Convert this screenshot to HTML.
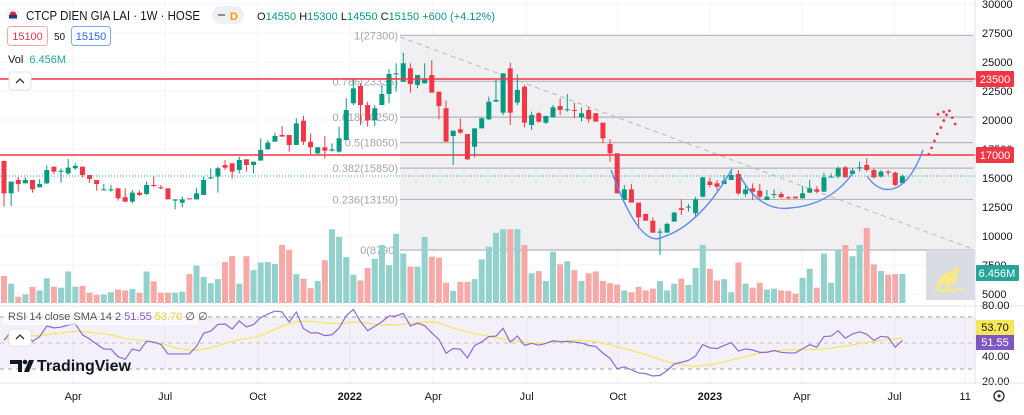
<!DOCTYPE html>
<html><head><meta charset="utf-8">
<style>
html,body{margin:0;padding:0;background:#fff;}
body{width:1024px;height:410px;overflow:hidden;font-family:"Liberation Sans",sans-serif;}
svg text{font-family:"Liberation Sans",sans-serif;}
</style></head>
<body>
<svg id="chart" width="1024" height="410" viewBox="0 0 1024 410" xmlns="http://www.w3.org/2000/svg">
<rect x="0" y="0" width="1024" height="410" fill="#fff"/>
<g id="grid"></g>
<rect x="400" y="35" width="575" height="215" fill="#f0f0f3"/>
<g id="fib"></g>
<g id="vol"></g>
<line x1="400" y1="37" x2="970" y2="248" stroke="#b8bac0" stroke-width="1" stroke-dasharray="5,4"/>
<g id="candles"></g>
<line x1="0" y1="79" x2="976" y2="79" stroke="#f23645" stroke-width="1.5"/>
<line x1="0" y1="155" x2="976" y2="155" stroke="#f23645" stroke-width="1.5"/>
<line x1="0" y1="176" x2="976" y2="176" stroke="#26a69a" stroke-width="1" stroke-dasharray="1,2"/>
<g fill="none" stroke="#5b8cf0" stroke-width="1.4">
<path d="M611,170 Q640,250 663,237 Q700,225 732,169"/>
<path d="M740,176 Q760,212 790,208 Q830,205 853,173"/>
<path d="M867,176 Q878,192 892,189 Q910,185 923,150"/>
</g>
<g id="dots" fill="#f23645"></g>
<rect x="926" y="250" width="49" height="50" fill="#d9dce2"/>
<path d="M938,283 q4,-10 12,-10 l6,-6 l3,3 l-3,4 q2,6 -2,9 l-4,0 l-1,5 l-3,0 l0,-5 l-5,0 l-1,5 l-3,0 z M934,290 q12,4 30,-2" fill="#f5e98a" stroke="#f5e98a" stroke-width="1.2"/>
<line x1="975" y1="0" x2="975" y2="383" stroke="#e0e3eb"/>
<g id="paxis" font-size="11" fill="#131722"></g>
<g><rect x="976" y="71" width="38" height="16" fill="#f23645" rx="1"/><text x="995" y="83" font-size="11" fill="#fff" text-anchor="middle">23500</text></g>
<g><rect x="976" y="147" width="38" height="16" fill="#f23645" rx="1"/><text x="995" y="159" font-size="11" fill="#fff" text-anchor="middle">17000</text></g>
<g><rect x="976" y="265" width="43" height="16" fill="#26a69a" rx="1"/><text x="997" y="277" font-size="11" fill="#fff" text-anchor="middle">6.456M</text></g>
<!-- RSI pane -->
<line x1="0" y1="306" x2="1024" y2="306" stroke="#e0e3eb"/>
<rect x="0" y="317" width="975" height="52" fill="rgba(126,87,194,0.09)"/>
<line x1="0" y1="317" x2="975" y2="317" stroke="#a0a3ab" stroke-dasharray="4,4"/>
<line x1="0" y1="343" x2="975" y2="343" stroke="#c0c3cb" stroke-dasharray="4,4"/>
<line x1="0" y1="369" x2="975" y2="369" stroke="#a0a3ab" stroke-dasharray="4,4"/>
<polyline id="rsima" fill="none" stroke="#f7e55a" stroke-width="1.2"/>
<polyline id="rsiline" fill="none" stroke="#8c6ad6" stroke-width="1.2"/>
<g font-size="11" fill="#131722">
<text x="982" y="309">80.00</text><text x="982" y="360">40.00</text><text x="982" y="385">20.00</text>
</g>
<g><rect x="976" y="320" width="38" height="15" fill="#f7e55a"/><text x="995" y="331" font-size="11" fill="#131722" text-anchor="middle">53.70</text></g>
<g><rect x="976" y="335" width="38" height="15" fill="#7e57c2"/><text x="995" y="346" font-size="11" fill="#fff" text-anchor="middle">51.55</text></g>
<rect x="3" y="309" width="195" height="16" fill="rgba(255,255,255,0.6)"/>
<text x="8" y="320" font-size="11"><tspan fill="#555">RSI 14 close SMA 14 2 </tspan><tspan fill="#7e57c2">51.55 </tspan><tspan fill="#e5d23a">53.70 </tspan><tspan fill="#444">∅ ∅</tspan></text>
<g><rect x="9" y="329" width="22" height="17" rx="3" fill="#fff" stroke="#e0e3eb"/><path d="M16,339 l4,-4 l4,4" fill="none" stroke="#333" stroke-width="1.3"/></g>
<g>
<path d="M10,360 h12 v12 h-4 v-8 h-8 z M24,372 l5,-12 h5 l-5,12 z" fill="#131722"/>
<circle cx="25" cy="362" r="2.3" fill="#131722"/>
<text x="37" y="371" font-size="16" fill="#131722" font-weight="bold">TradingView</text>
</g>
<!-- time axis -->
<line x1="0" y1="383" x2="1024" y2="383" stroke="#e0e3eb"/>
<g id="taxis" font-size="11" fill="#131722" text-anchor="middle"></g>
<g><circle cx="999" cy="396" r="5" fill="none" stroke="#333" stroke-width="1.4"/><circle cx="999" cy="396" r="1.6" fill="#333"/></g>
<!-- header -->
<g>
<circle cx="13" cy="15" r="6" fill="#eef0f4"/><circle cx="13" cy="15" r="3.5" fill="#d9232e"/><rect x="9" y="15" width="8" height="3.5" fill="#1f3a8a"/>
<text x="26" y="20" font-size="13" fill="#131722" textLength="174" lengthAdjust="spacingAndGlyphs">CTCP DIEN GIA LAI · 1W · HOSE</text>
<rect x="212" y="6" width="32" height="18" rx="9" fill="#eef0f4"/><rect x="218" y="14" width="7" height="2" fill="#8a8d96"/><text x="230" y="20" font-size="11" fill="#ff9800" font-weight="bold">D</text>
<text x="257" y="20" font-size="11"><tspan fill="#131722">O</tspan><tspan fill="#089981">14550 </tspan><tspan fill="#131722">H</tspan><tspan fill="#089981">15300 </tspan><tspan fill="#131722">L</tspan><tspan fill="#089981">14550 </tspan><tspan fill="#131722">C</tspan><tspan fill="#089981">15150 +600 (+4.12%)</tspan></text>
<g><rect x="7.5" y="26.5" width="40" height="19" rx="3" fill="#fff" stroke="#f7a9a7"/><text x="27.5" y="40" font-size="11" fill="#f23645" text-anchor="middle">15100</text></g>
<text x="54" y="40" font-size="10" fill="#131722">50</text>
<g><rect x="71.5" y="26.5" width="39" height="19" rx="3" fill="#fff" stroke="#7fa5f4"/><text x="91" y="40" font-size="11" fill="#2962ff" text-anchor="middle">15150</text></g>
<text x="8" y="63" font-size="11"><tspan fill="#131722">Vol </tspan><tspan fill="#26a69a" dx="3">6.456M</tspan></text>
<g><rect x="9" y="72" width="22" height="18" rx="3" fill="#fff" stroke="#e0e3eb"/><path d="M16,83 l4,-4 l4,4" fill="none" stroke="#333" stroke-width="1.3"/></g>
</g>
</svg>
<script>
const opens=[16470,13680,14830,14540,14830,14200,14540,15980,15550,15400,15840,15980,15260,14830,13970,13970,14110,13340,12960,13740,13620,14400,14200,14110,13050,12870,13250,13160,13540,14970,15110,16120,16270,15690,16610,16120,16500,17470,18130,18710,18710,17850,19940,18130,17130,17650,17360,17270,18280,21440,22930,21290,20000,21290,22240,23970,23310,24450,23020,23160,23880,22440,21010,18620,19200,18790,17700,19280,20060,21580,20630,24450,21500,22870,19570,20580,19770,20230,21210,20860,20860,20230,20860,20580,19770,17930,17130,13110,14020,12880,11900,11320,10290,10290,11240,12390,12530,11960,13390,14690,14540,14480,14830,15350,13620,14110,13910,13100,13610,13620,13340,13390,13250,13740,14020,13820,15060,15120,15920,15350,15830,16120,15690,15120,15550,15460,14550];
const highs=[16500,14700,15060,15060,14830,14890,16090,15980,15840,16640,16270,15980,15260,14830,14480,14400,14110,14110,13970,13910,14690,15170,14400,14110,13160,13390,13250,14110,15110,15840,15980,16550,16270,16840,16610,16410,18420,18280,18910,19480,18710,20150,20350,18850,17650,18620,17990,19430,21870,23590,23160,21580,21290,23020,24370,24890,25800,24890,23880,24890,25170,22440,21670,19080,20150,18790,19280,20230,22010,23450,24020,24940,23940,23020,20720,20720,20350,21290,21870,22240,21500,21090,21090,20580,19770,18340,17130,14400,14480,12880,11900,11610,10660,11150,12100,13160,12760,13390,15060,15060,14830,15260,15690,15690,14400,14540,14480,13970,14020,13820,13450,13390,14310,14830,14310,15460,15400,15980,16040,15840,16410,16700,15830,15690,15690,15540,15300];
const lows=[12530,12590,13820,14540,13740,14200,14480,15350,14600,15260,15690,15060,14600,13910,13970,13820,13050,12960,12820,13450,13540,14200,14020,13160,12300,12470,13160,13160,13540,14890,13740,15690,14970,15400,15550,15400,16500,17470,18130,18565,17270,17850,17850,17070,17070,16700,17270,17190,18280,21290,19570,19430,19480,21290,21440,22440,23310,22360,22730,23160,22360,20060,18130,16120,18790,16550,16780,19280,20000,21580,20430,19570,21290,19370,19140,19770,19660,20230,20430,20720,20150,19860,19770,19860,17990,16410,13680,13110,12880,10660,11320,10290,8360,10290,11240,11810,12100,11670,13330,14190,13910,14480,14830,13540,13390,13100,13100,13100,13250,13250,13160,13250,13250,13680,13680,13820,15060,14970,15060,15260,15550,15550,14970,15060,15260,14310,14550];
const closes=[13680,14690,14480,14830,14020,14480,15690,15550,15630,15890,16040,15260,14920,14480,14020,14020,13250,12960,13740,13540,14400,14310,14110,13160,13160,13160,13160,13680,14830,15060,15840,15890,15550,16550,16120,16410,17420,18050,18620,18565,17850,19710,18130,17650,17650,17360,17470,18420,20860,22730,21290,20000,21010,22240,23970,24020,24890,23100,23880,23510,22360,21210,18130,19080,18910,16610,19280,20150,21580,21730,24020,20630,22590,19770,20430,19860,20350,21090,20860,20920,20780,20580,20060,19860,18420,17130,13680,14020,12880,11610,11320,10290,10380,11040,12010,12240,12530,13160,15060,14400,14250,14770,15260,13680,14020,13820,13390,13390,13620,13340,13250,13250,13680,14110,13820,15060,15120,15830,15060,15630,15920,15690,15060,15550,15460,14400,15150];
const volumes=[6.0,4.3,1.4,1.9,3.6,2.8,5.5,3.6,3.4,7.0,3.6,3.8,2.3,1.8,1.9,2.4,3.0,2.8,3.1,2.3,7.0,4.8,2.3,2.3,2.3,2.5,6.4,8.3,5.8,4.4,5.3,9.1,10.4,4.3,10.4,7.3,9.0,9.1,8.7,12.9,11.8,6.4,5.4,3.3,4.9,9.5,16.4,14.7,10.2,6.3,5.0,7.8,9.8,12.9,8.4,15.4,11.0,8.1,8.1,14.7,10.3,10.1,4.5,2.7,4.7,4.7,5.3,9.7,12.5,15.6,16.4,16.4,16.4,12.9,6.6,7.1,4.9,11.4,8.6,9.3,7.3,4.9,6.6,7.0,4.9,4.4,4.1,2.8,2.4,3.6,2.8,3.2,4.9,2.8,4.3,5.4,4.0,7.8,12.9,7.6,5.0,5.3,2.4,9.0,4.3,3.4,4.5,3.0,3.2,2.8,2.7,2.1,5.6,7.6,3.4,11.0,4.5,11.8,12.9,10.4,12.9,16.7,8.6,7.1,6.3,6.4,6.456];
const priceTicks=[30000,27500,25000,22500,20000,17500,15000,12500,10000,7500,5000];
const timeLabels=["Apr","Jul","Oct","2022","Apr","Jul","Oct","2023","Apr","Jul","11"];
const timeIndex=[9.7,22.6,35.6,48.5,60.2,73.3,86.1,99,111.9,124.9,134.8];
const fibLevels=[1,0.786,0.618,0.5,0.382,0.236,0];
const fibPrices=[27300,23335,20250,18050,15850,13150,8790];
const dotPrices=[17050,17600,18200,18800,19350,19950,20500,20700,20450,20800,20200,19650];
const dotIndex=[129.7,130.1,130.5,130.9,131.4,131.8,131.0,131.8,132.2,132.6,133.0,133.4];

const NS="http://www.w3.org/2000/svg";
const X=i=>4+7.13*i;
const Y=p=>62+(25000-p)*0.0116;
const VY=v=>303-v*4.5;
const RY=r=>343-(r-50)*1.29;
function mk(tag,attrs,parent){const e=document.createElementNS(NS,tag);for(const k in attrs)e.setAttribute(k,attrs[k]);parent.appendChild(e);return e;}

const grid=document.getElementById('grid');
priceTicks.forEach(p=>{const l=mk('line',{x1:0,x2:975,y1:Y(p),y2:Y(p),stroke:'#f3f4f7'},grid);

});
timeIndex.forEach(t=>{const l=mk('line',{x1:X(t),x2:X(t),y1:0,y2:383,stroke:'#f3f4f7'},grid);

});

const fib=document.getElementById('fib');
fibLevels.forEach((lv,k)=>{const y=Y(fibPrices[k]);
const l=mk('line',{x1:400,x2:973,y1:y,y2:y,stroke:'#b4b6bd','stroke-width':1.2},fib);


const t=mk('text',{x:398,y:y+4,'font-size':11,fill:'#a3a6ae','text-anchor':'end'},fib);
t.textContent=lv+'('+fibPrices[k]+')';

});

const vol=document.getElementById('vol');
volumes.forEach((v,i)=>{const up=closes[i]>=opens[i];
const r=mk('rect',{x:X(i)-3,y:VY(v),width:6,height:303-VY(v),fill:up?'#93d2cc':'#f7a9a7'},vol);

});

const cg=document.getElementById('candles');
opens.forEach((o,i)=>{const c=closes[i],up=c>=o,col=up?'#089981':'#f23645';
const g=mk('g',{},cg);


mk('line',{x1:X(i),x2:X(i),y1:Y(highs[i]),y2:Y(lows[i]),stroke:col,'stroke-width':1},g);
const top=Y(Math.max(o,c)),bot=Y(Math.min(o,c));
mk('rect',{x:X(i)-2.5,y:top,width:5,height:Math.max(1,bot-top),fill:col},g);});

const dg=document.getElementById('dots');
dotPrices.forEach((p,k)=>{const d=mk('circle',{cx:X(dotIndex[k]),cy:Y(p),r:1.4},dg);

});

const pa=document.getElementById('paxis');
priceTicks.forEach(p=>{const t=mk('text',{x:982,y:Y(p)+4},pa);t.textContent=p;

});

const ta=document.getElementById('taxis');
timeLabels.forEach((s,k)=>{const t=mk('text',{x:X(timeIndex[k]),y:400},ta);t.textContent=s;
if(s==='2022'||s==='2023')t.setAttribute('font-weight','bold');

});

let ag=180,al=180;const rsi=[52];
for(let i=1;i<closes.length;i++){const d=closes[i]-closes[i-1];
ag=(ag*13+Math.max(d,0))/14;al=(al*13+Math.max(-d,0))/14;rsi.push(100-100/(1+ag/(al||1e-9)));}
const sma=rsi.map((_,i)=>{const s=rsi.slice(Math.max(0,i-13),i+1);return s.reduce((a,b)=>a+b,0)/s.length;});
document.getElementById('rsiline').setAttribute('points',rsi.map((r,i)=>X(i)+','+RY(r)).join(' '));
document.getElementById('rsima').setAttribute('points',sma.map((r,i)=>X(i)+','+RY(r)).join(' '));
</script>
</body></html>
